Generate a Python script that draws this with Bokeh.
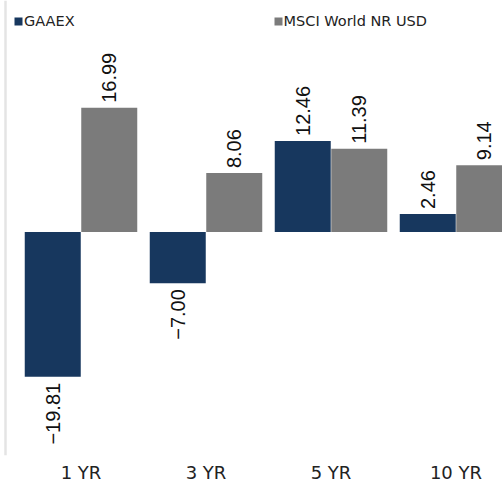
import numpy as np
from bokeh.plotting import figure
from bokeh.models import ColumnDataSource, Range1d, FixedTicker, Span, Legend, LegendItem
from bokeh.core.properties import value
from bokeh.embed import file_html
from bokeh.resources import INLINE

# ---- data ----
categories = ["1 YR", "3 YR", "5 YR", "10 YR"]
series_names = ["GAAEX", "MSCI World NR USD"]
gaaex = [-19.81, -7.00, 12.46, 2.46]
msci = [16.99, 8.06, 11.39, 9.14]

NAVY = "#17375E"
GRAY = "#7B7B7B"

idx = np.arange(len(categories))
half = 0.226
bw = 0.448

X0, X1 = -0.644, 3.372


def fmt(v):
    s = "{:.2f}".format(abs(v))
    return ("\u2212" + s) if v < 0 else s


def make_src(vals, shift):
    return ColumnDataSource(dict(
        x=idx + shift,
        top=vals,
        label=[fmt(v) for v in vals],
        align=["left" if v >= 0 else "right" for v in vals],
        yoff=[-5 if v >= 0 else 6 for v in vals],
    ))


src_a = make_src(gaaex, -half)
src_b = make_src(msci, half)

p = figure(width=502, height=489, output_backend="svg", toolbar_location=None,
           x_range=Range1d(X0, X1), y_range=Range1d(-30.57, 31.67),
           min_border_left=0, min_border_right=0, min_border_top=0,
           min_border_bottom=34)

p.outline_line_color = None
p.xgrid.visible = False
p.ygrid.visible = False
p.yaxis.visible = False

ra = p.vbar(x="x", top="top", bottom=0, width=bw, source=src_a,
            fill_color=NAVY, line_color=None)
rb = p.vbar(x="x", top="top", bottom=0, width=bw, source=src_b,
            fill_color=GRAY, line_color=None)

for src in (src_a, src_b):
    p.text(x="x", y="top", text="label", source=src, angle=np.pi / 2,
           text_align="align", text_baseline="middle", y_offset="yoff",
           text_font=value("Liberation Sans"), text_font_size="20px",
           text_color="#111111")

# left rule
p.add_layout(Span(location=X0 + 5 / 125, dimension="height",
                  line_color="#E4E4E4", line_width=2.5))

# x axis
p.xaxis.ticker = FixedTicker(ticks=list(idx))
p.xaxis.major_label_overrides = {int(i): c for i, c in zip(idx, categories)}
p.xaxis.axis_line_color = None
p.xaxis.major_tick_line_color = None
p.xaxis.minor_tick_line_color = None
p.xaxis.major_tick_out = 0
p.xaxis.major_tick_in = 0
p.xaxis.major_label_standoff = 6
p.xaxis.major_label_text_font = "DejaVu Sans"
p.xaxis.major_label_text_font_size = "18px"
p.xaxis.major_label_text_color = "#222222"

legend = Legend(items=[LegendItem(label=series_names[0], renderers=[ra]),
                       LegendItem(label=series_names[1], renderers=[rb])],
                orientation="horizontal", location=(13, 426),
                glyph_width=10, glyph_height=10, label_standoff=1,
                spacing=198, padding=0, margin=0,
                label_height=10, label_width=10,
                label_text_font="DejaVu Sans", label_text_font_size="14.5px",
                label_text_color="#222222",
                background_fill_alpha=0, border_line_alpha=0)
p.add_layout(legend)

open("out.html", "w").write(file_html(p, INLINE))
